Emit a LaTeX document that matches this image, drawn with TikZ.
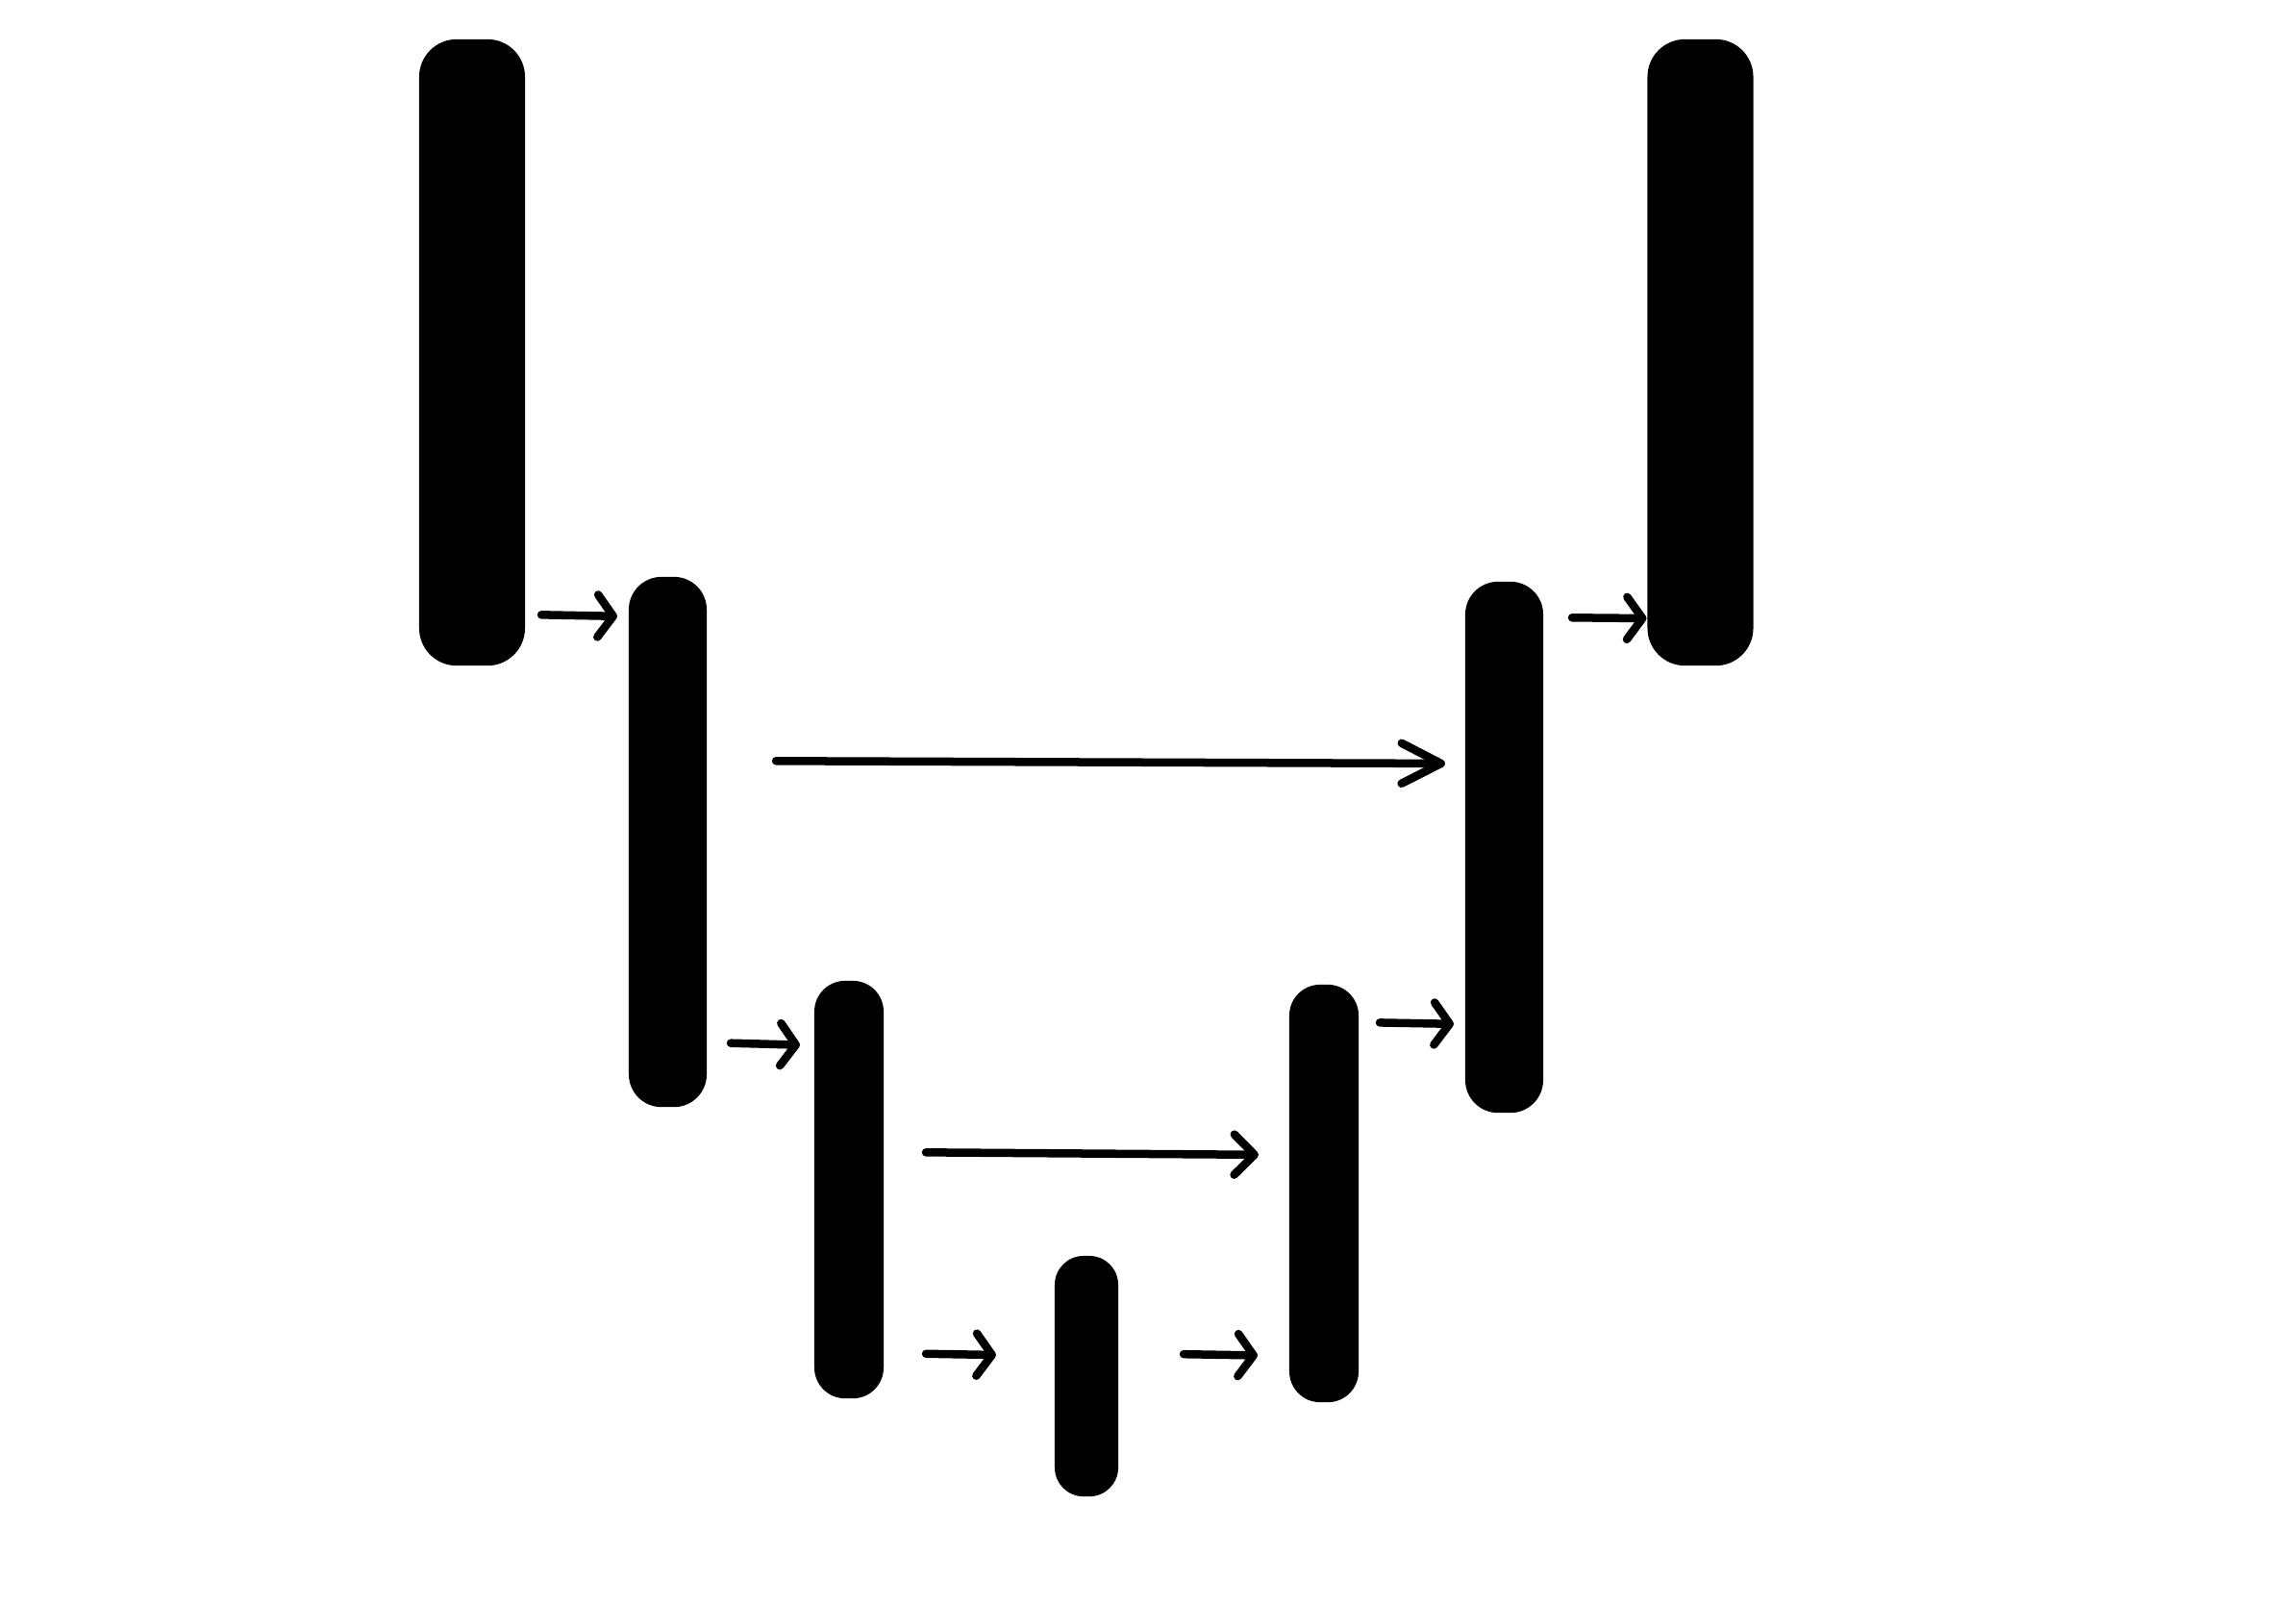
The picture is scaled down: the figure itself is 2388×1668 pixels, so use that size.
\documentclass[tikz,border=0pt]{standalone}
\usepackage{tikz}
\usetikzlibrary{arrows.meta, positioning, calc}

\begin{document}
\begin{tikzpicture}[x=0.01cm, y=-0.01cm,
    bar/.style={rectangle, fill=black, inner sep=0pt, outer sep=0pt},
    link/.style={line width=0.085cm, line cap=round, -{Straight Barb[length=0.16cm, width=0.44cm, round]}}]
\useasboundingbox (0,0) rectangle (2388,1668);

% Contracting side
\node[bar, minimum width=1.10cm, minimum height=6.51cm, rounded corners=0.39cm] (e1) at (491,366.5) {};
\node[bar, minimum width=0.81cm, minimum height=5.51cm, rounded corners=0.34cm] (e2) at (694.5,875.5) {};
\node[bar, minimum width=0.72cm, minimum height=4.34cm, rounded corners=0.32cm] (e3) at (883,1237) {};

% Bottom
\node[bar, minimum width=0.66cm, minimum height=2.50cm, rounded corners=0.30cm] (b) at (1130,1431) {};

% Expanding side
\node[bar, minimum width=0.72cm, minimum height=4.34cm, rounded corners=0.32cm] (d3) at (1377,1241) {};
\node[bar, minimum width=0.81cm, minimum height=5.52cm, rounded corners=0.34cm] (d2) at (1564.5,881) {};
\node[bar, minimum width=1.10cm, minimum height=6.51cm, rounded corners=0.39cm] (d1) at (1768.5,366.5) {};

% Short steps
\foreach \from/\to/\ya/\yb/\sa/\sb in {e1/e2/639/641/0.17cm/0.12cm,
        e2/e3/1084/1087/0.25cm/0.15cm,
        e3/b/1407/1410/0.44cm/0.61cm,
        b/d3/1407/1410/0.68cm/0.33cm,
        d3/d2/1063/1065/0.22cm/0.12cm,
        d2/d1/642/643/0.30cm/0.01cm} {
    \draw[link, shorten <=\sa, shorten >=\sb] (\from.east |- 0,\ya) -- (\to.west |- 0,\yb);
}

% Skip connections
\draw[link, shorten <=0.72cm, shorten >=0.21cm, -{Straight Barb[length=0.41cm, width=0.42cm, round]}]
    (e2.east |- 0,791) -- (d2.west |- 0,794);
\draw[link, shorten <=0.44cm, shorten >=0.32cm, -{Straight Barb[length=0.21cm, width=0.42cm, round]}]
    (e3.east |- 0,1198) -- (d3.west |- 0,1201);
\end{tikzpicture}
\end{document}
